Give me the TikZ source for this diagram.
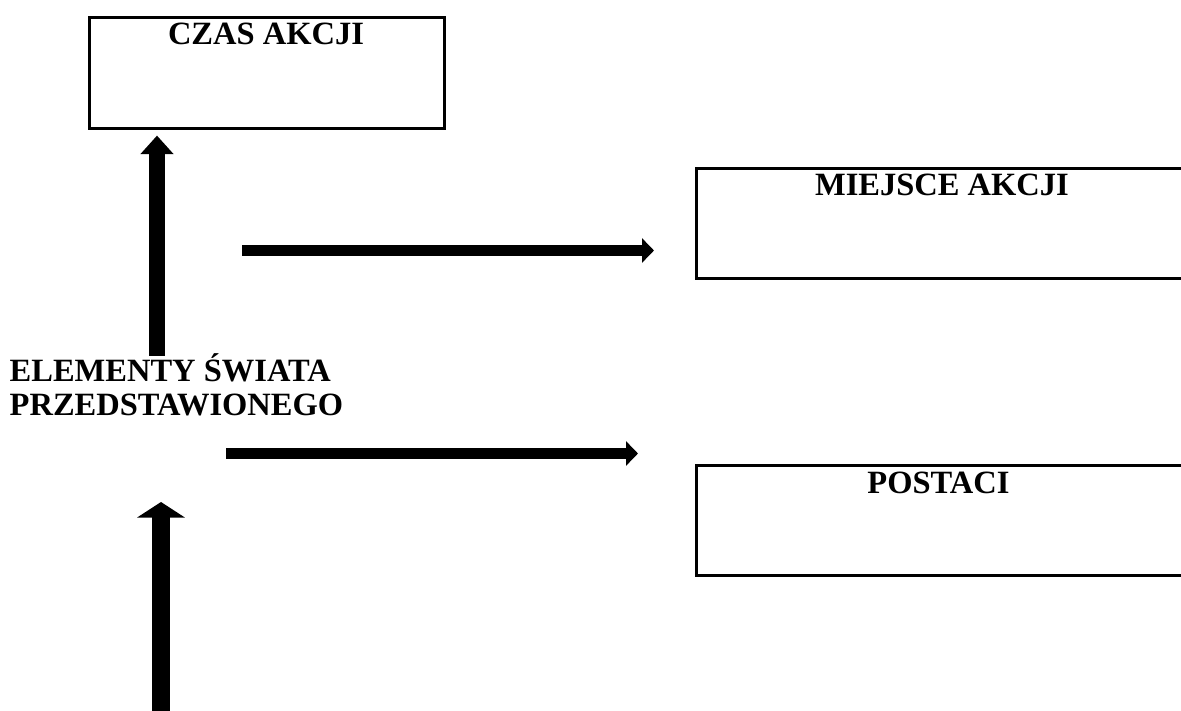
\documentclass[tikz,border=0pt]{standalone}
\usepackage{fontspec}
\setmainfont{Liberation Serif}
\usetikzlibrary{arrows.meta}
\begin{document}
\begin{tikzpicture}[x=1pt,y=-1pt,
  box/.style={draw=black,line width=2.6pt,inner sep=0pt,anchor=north west},
  title/.style={font=\fontsize{32.5}{34}\selectfont\bfseries,anchor=base,inner sep=0pt},
  fatarrow/.style={line width=16pt,-{Triangle[width=32pt,length=18.5pt]}},
  widearrow/.style={line width=17.5pt,-{Triangle[width=47pt,length=15.5pt]}},
  thinarrow/.style={line width=11pt,-{Triangle[width=24pt,length=12pt]}}]
\useasboundingbox (0,0) rectangle (1181,711);
% boxes
\node[box,minimum width=355pt,minimum height=111pt] (czas) at (88,16) {};
\node[title] (czasT) at (266,45) {CZAS AKCJI};
\node[box,minimum width=520pt,minimum height=110pt] (miejsce) at (695,167) {};
\node[title] (miejsceT) at (942,196) {MIEJSCE AKCJI};
\node[box,minimum width=520pt,minimum height=110pt] (postaci) at (695,464) {};
\node[title] (postaciT) at (938.5,493) {POSTACI};
% central label
\node[font=\fontsize{32.5}{34}\selectfont\bfseries,align=left,anchor=south west,inner sep=0pt]
  (elem) at (9.5,416.5) {ELEMENTY ŚWIATA\\PRZEDSTAWIONEGO};
% arrow ends
\coordinate (a1) at (157,356);
\coordinate (h1) at (242,250.5);
\coordinate (h2) at (226,453.5);
\coordinate (b1) at (161,716);
\coordinate (b1tip) at (161,502);
% arrows
\draw[fatarrow,shorten >=6pt] (a1) -- (czas.south -| a1);
\draw[thinarrow,shorten >=41pt] (h1) -- (miejsce.west |- h1);
\draw[thinarrow,shorten >=57pt] (h2) -- (postaci.west |- h2);
\draw[widearrow] (b1) -- (b1tip);
\end{tikzpicture}
\end{document}
